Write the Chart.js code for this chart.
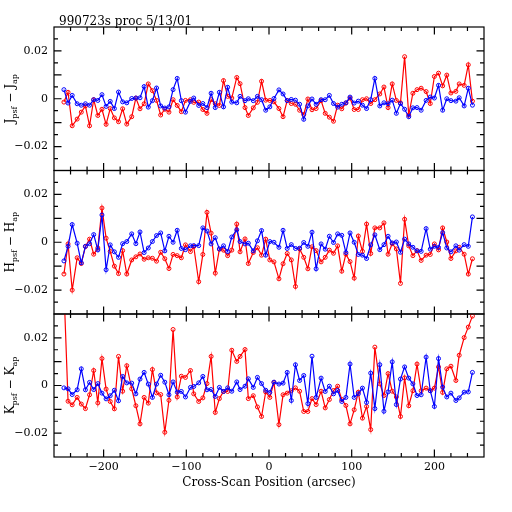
<!DOCTYPE html>
<html>
<head>
<meta charset="utf-8">
<script src="https://cdn.jsdelivr.net/npm/chart.js@4.4.1/dist/chart.umd.min.js"></script>
<style>
  body { margin: 0; background: #fff; }
  #wrap { position: relative; width: 512px; height: 512px; }
  canvas { position: absolute; left: 0; top: 0; }
</style>
</head>
<body>
<div id="wrap">
  <canvas id="pJ" width="512" height="512"></canvas>
  <canvas id="pH" width="512" height="512"></canvas>
  <canvas id="pK" width="512" height="512"></canvas>
</div>
<script>
// cross-scan positions (arcsec), shared by all series
const scanPos = [-248,-243,-238,-232,-227,-222,-217,-212,-207,-202,-197,-192,-187,-182,-177,-172,-166,-161,-156,-151,
  -146,-141,-136,-131,-126,-121,-116,-111,-106,-101,-95,-91,-85,-80,-75,-70,-65,-60,-55,-50,
  -45,-39,-35,-29,-25,-19,-14,-9,-4,1,6,12,17,22,27,32,37,42,47,52,
  57,63,68,73,78,83,88,93,98,103,108,113,118,123,128,134,139,144,149,154,
  159,164,169,174,179,184,190,195,200,205,210,215,220,226,230,236,241,246];

// J band
const jRed = [-0.0014,0.0027,-0.0113,-0.0085,-0.0056,-0.003,-0.0113,-0.0004,-0.007,-0.0044,
  -0.0107,-0.0041,-0.008,-0.0096,-0.0042,-0.0106,-0.0075,0.0003,-0.0042,-0.0021,
  0.0062,0.0034,-0.0007,-0.0068,-0.0044,-0.0056,-0.0004,-0.0028,-0.0054,-0.0007,
  -0.0004,-0.0015,-0.0014,-0.0045,-0.0061,-0.0004,-0.0021,-0.0028,0.0076,0.001,
  0.0003,0.0089,0.0063,-0.0037,-0.007,-0.0038,-0.0015,
  0.0073,-0.0006,-0.0007,-0.0013,-0.0041,-0.0075,-0.0007,-0.002,-0.0023,-0.0048,
  -0.0066,-0.0001,-0.0046,-0.0041,-0.0008,-0.0061,-0.0077,-0.0094,-0.0027,-0.0042,
  -0.0018,0.0003,-0.0045,-0.0045,-0.0004,0,-0.002,-0.0004,0.002,0.0049,
  -0.0037,0.0062,-0.0007,-0.0017,0.0176,-0.0068,0.0023,0.0038,0.0044,0.003,
  -0.002,0.0093,0.0107,0.0054,0.0099,0.0024,0.0031,0.0062,0.0056,0.0142,-0.001];
const jBlue = [0.0038,-0.0018,0.0014,-0.0021,-0.0027,-0.0021,-0.0027,-0.0004,-0.0007,0.0017,
  -0.0032,-0.0011,-0.0041,0.0028,-0.0013,-0.0017,0.0001,0.0003,0.0004,0.0051,
  -0.0035,-0.0008,0.0045,-0.003,-0.0039,-0.0034,0.0038,0.0085,-0.0008,-0.0056,
  -0.0011,0.0003,-0.0028,-0.002,-0.0037,0.0023,-0.0037,0.0027,-0.0034,0.0048,
  -0.0014,-0.0017,0.001,-0.0008,0,-0.0008,0.001,
  -0.0004,-0.0048,-0.0034,0.0001,0.0037,0.002,-0.0008,-0.0003,-0.0006,-0.0023,
  -0.0086,-0.003,-0.0001,-0.0023,-0.0004,-0.0004,0.0014,-0.002,-0.0035,-0.0023,
  -0.0017,0.0007,-0.0018,-0.001,-0.0027,-0.0041,-0.0004,0.0085,-0.003,-0.0017,
  -0.0021,-0.0006,-0.0061,-0.002,-0.0044,-0.0075,-0.0038,-0.0037,-0.0048,-0.0007,
  0.0007,0.0003,0.0056,-0.0048,0,-0.0008,-0.001,0.0004,-0.003,0.0044,-0.0027];

// H band
const hRed = [-0.0133,-0.0007,-0.02,-0.0065,-0.0089,-0.0018,0.0013,-0.005,-0.0024,0.0143,
  0.0017,-0.0038,-0.01,-0.0131,-0.0035,-0.0133,-0.0074,-0.0061,-0.0049,-0.0071,
  -0.0065,-0.0067,-0.0079,-0.0042,-0.0069,-0.011,-0.0051,-0.0056,-0.0065,-0.0011,
  -0.0039,-0.0018,-0.0165,-0.0051,0.0125,0.0038,-0.0129,-0.0029,-0.0033,-0.0056,
  -0.0033,0.0076,-0.004,0.0014,-0.0089,-0.0043,-0.0023,
  -0.0054,0.0013,-0.0074,-0.0082,-0.0153,-0.009,-0.0047,-0.0074,-0.0185,-0.0028,
  -0.0063,-0.0111,-0.0019,-0.0035,-0.0082,-0.0063,-0.0033,-0.0046,-0.0015,-0.0121,
  -0.005,-0.0081,-0.015,0.0026,-0.0038,0.0076,-0.0047,0.006,0.006,0.0081,
  -0.005,-0.0006,-0.0028,-0.0172,0.0096,-0.0015,-0.0056,-0.0035,-0.0076,-0.0054,
  -0.0051,-0.0007,-0.0032,0.006,0.0001,-0.0068,-0.0036,-0.0021,-0.005,-0.0133,-0.0069];
const hBlue = [-0.0078,-0.0017,0.0074,-0.0004,-0.0086,-0.0017,-0.0006,0.0032,-0.0032,0.0114,
  -0.0115,-0.0011,-0.004,-0.0063,-0.0006,0.0003,0.0035,-0.0006,0.0043,-0.0043,
  -0.0024,0.0003,0.0028,0.0039,-0.0036,0.0025,0,0.005,-0.0026,-0.0031,
  -0.0015,-0.0014,-0.0014,0.006,0.0047,-0.0007,0.0019,-0.0028,-0.0015,-0.0039,
  0.0022,0.0052,0.0003,-0.0007,-0.0004,-0.0036,0.0006,
  0.0049,-0.0054,0.0003,0,-0.0021,0.005,-0.0026,-0.001,-0.0026,-0.0025,
  -0.0001,-0.0017,0.0042,-0.0111,-0.0007,-0.0029,0.0025,-0.0001,0.0035,0.0029,
  -0.0043,0.0039,0,-0.0051,-0.0054,-0.0068,-0.0011,0.0031,-0.0031,-0.001,
  0.0025,-0.0003,0.0001,-0.0042,0.0013,-0.0007,-0.0021,-0.0036,-0.0038,0.0057,
  -0.0029,-0.0017,-0.0022,0.004,-0.0024,-0.004,-0.0015,-0.0033,-0.001,-0.0017,0.0106];

// K band (first red point lies above the panel)
const kRed = [0.041,-0.0066,-0.0081,-0.005,-0.0078,-0.0097,-0.0039,0.0063,-0.0073,0.0113,
  -0.0015,-0.0067,-0.0098,0.0122,-0.0024,0.0083,-0.0014,-0.0085,-0.0161,-0.005,
  -0.0074,0.0067,-0.0031,-0.0038,-0.0196,-0.0062,0.0235,-0.0048,0.0039,0.0034,
  0.0063,-0.0035,-0.0067,-0.0052,0.0008,0.0122,-0.0113,-0.0055,-0.0025,-0.0025,
  0.0148,0.0101,0.0122,0.0151,-0.0055,-0.0043,-0.009,
  -0.013,-0.0027,-0.005,0.0013,-0.0164,-0.0039,-0.0032,-0.0022,-0.001,-0.0024,
  -0.0109,-0.0109,-0.0055,-0.008,-0.0024,-0.0094,-0.0059,-0.0021,-0.0003,-0.0059,
  -0.0084,-0.0161,-0.0102,-0.0028,-0.0137,-0.0088,-0.0185,0.0161,0.0007,-0.0042,
  0.005,-0.0024,-0.0048,-0.013,0.0032,-0.0085,-0.0022,0.009,-0.0022,-0.0011,
  -0.0022,-0.0011,0.0078,-0.0029,0.007,0.0081,0.0021,0.0127,0.0201,0.0245,0.0291];
const kBlue = [-0.001,-0.0014,-0.0038,-0.0018,0.007,-0.0018,0.0013,-0.0017,0.0008,-0.0032,
  -0.0056,-0.0043,-0.002,-0.0064,0.0038,0.0011,0.001,-0.0035,0.0027,0.0055,
  0.0006,-0.005,0.0006,0.0043,0.0014,-0.0039,0.0015,-0.0028,-0.0025,-0.0048,
  -0.0008,-0.0004,0.0011,0.0038,-0.0018,-0.0017,-0.0046,-0.0008,-0.0025,-0.001,
  -0.0024,0.0015,-0.0017,-0.0003,0.0028,-0.0008,0.0034,
  0.0008,-0.002,-0.0029,0.0014,0.0006,0.001,0.0055,-0.0063,0.0087,0.0021,
  0.0042,-0.0076,0.0123,-0.005,0.0031,-0.0025,-0.0003,-0.0035,-0.0021,-0.0067,
  -0.005,0.009,-0.005,-0.0035,-0.0011,-0.0071,0.0052,-0.0097,0.0087,-0.0108,
  -0.0027,0.0099,-0.008,0.0027,0.0078,0.0031,0.0007,-0.0042,-0.0039,0.0119,
  -0.0022,-0.0088,0.0113,-0.0007,-0.0048,-0.0032,-0.0063,-0.0052,-0.0028,-0.0027,0.0055];

const xLabelTicks = [-200, -100, 0, 100, 200];
const yLabelTicks = [-0.02, 0, 0.02];
const FONT = 'DejaVu Serif';

// frame, inward tick marks, rotated axis label with subscripts
const framePlugin = {
  id: 'frame',
  afterDraw(chart, args, opts) {
    const {ctx, chartArea: a, scales: {x, y}} = chart;
    ctx.save();
    ctx.strokeStyle = '#000';
    ctx.lineWidth = 1.2;
    ctx.strokeRect(a.left, a.top, a.right - a.left, a.bottom - a.top);
    ctx.beginPath();
    for (let v = -240; v <= 240; v += 20) {
      const px = x.getPixelForValue(v);
      const len = v % 100 === 0 ? 7.5 : 4;
      ctx.moveTo(px, a.top); ctx.lineTo(px, a.top + len);
      ctx.moveTo(px, a.bottom); ctx.lineTo(px, a.bottom - len);
    }
    for (let k = -5; k <= 5; k++) {
      const py = y.getPixelForValue(k * 0.005);
      const len = k % 2 === 0 ? 7.5 : 4;
      ctx.moveTo(a.left, py); ctx.lineTo(a.left + len, py);
      ctx.moveTo(a.right, py); ctx.lineTo(a.right - len, py);
    }
    ctx.stroke();

    // y title: X_psf − X_ap
    const b = opts.band;
    const parts = [
      [b, '12px ' + FONT, 0], ['psf', '8px ' + FONT, 3],
      [' \u2212 ', '12px ' + FONT, 0],
      [b, '12px ' + FONT, 0], ['ap', '8px ' + FONT, 3]
    ];
    let total = 0;
    parts.forEach(p => { ctx.font = p[1]; total += ctx.measureText(p[0]).width; });
    ctx.translate(14, (a.top + a.bottom) / 2);
    ctx.rotate(-Math.PI / 2);
    ctx.fillStyle = '#000';
    ctx.textBaseline = 'alphabetic';
    let cx = -total / 2;
    parts.forEach(p => {
      ctx.font = p[1];
      ctx.fillText(p[0], cx, p[2]);
      cx += ctx.measureText(p[0]).width;
    });
    ctx.restore();

    if (opts.header) {
      ctx.save();
      ctx.font = '12px ' + FONT;
      ctx.fillStyle = '#000';
      ctx.fillText(opts.header, 59, 25);
      ctx.restore();
    }
  }
};

function makePanel(id, band, red, blue, padTop, padBottom, showX, header) {
  const pts = arr => scanPos.map((x, i) => ({x: x, y: arr[i]}));
  const style = c => ({
    borderColor: c, borderWidth: 1.2, tension: 0,
    pointStyle: 'circle', pointRadius: 2, pointBorderWidth: 1,
    pointBorderColor: c, pointBackgroundColor: 'rgba(0,0,0,0)'
  });
  new Chart(document.getElementById(id), {
    type: 'line',
    data: {
      datasets: [
        Object.assign({label: 'blue', data: pts(blue)}, style('#0000ff')),
        Object.assign({label: 'red', data: pts(red)}, style('#ff0000'))
      ]
    },
    options: {
      responsive: false,
      animation: false,
      layout: {padding: {left: 0, right: 28, top: padTop, bottom: padBottom}},
      plugins: {
        legend: {display: false},
        tooltip: {enabled: false},
        frame: {band: band, header: header}
      },
      scales: {
        x: {
          type: 'linear', min: -260, max: 260,
          display: showX,
          grid: {display: false, drawTicks: false},
          border: {display: false},
          afterBuildTicks: s => { s.ticks = xLabelTicks.map(v => ({value: v})); },
          afterFit: s => { s.height = showX ? 33 : 0; },
          ticks: {
            color: '#000', padding: 4, maxRotation: 0,
            font: {family: FONT, size: 11},
            callback: v => (v < 0 ? '\u2212' + Math.abs(v) : String(v))
          },
          title: {
            display: true, text: 'Cross-Scan Position (arcsec)', color: '#000',
            font: {family: FONT, size: 12}, padding: {top: 0, bottom: 0}
          }
        },
        y: {
          type: 'linear', min: -0.03, max: 0.03,
          grid: {display: false, drawTicks: false},
          border: {display: false},
          afterBuildTicks: s => { s.ticks = yLabelTicks.map(v => ({value: v})); },
          afterFit: s => { s.width = 54; },
          ticks: {
            color: '#000', padding: 6,
            font: {family: FONT, size: 11},
            callback: v => (v === 0 ? '0' : (v < 0 ? '\u2212' : '') + Math.abs(v).toFixed(2))
          }
        }
      }
    },
    plugins: [framePlugin]
  });
}

makePanel('pJ', 'J', jRed, jBlue, 27, 341.5, false, '990723s proc 5/13/01');
makePanel('pH', 'H', hRed, hBlue, 170.5, 198, false, null);
makePanel('pK', 'K', kRed, kBlue, 314, 22, true, null);
</script>
</body>
</html>
